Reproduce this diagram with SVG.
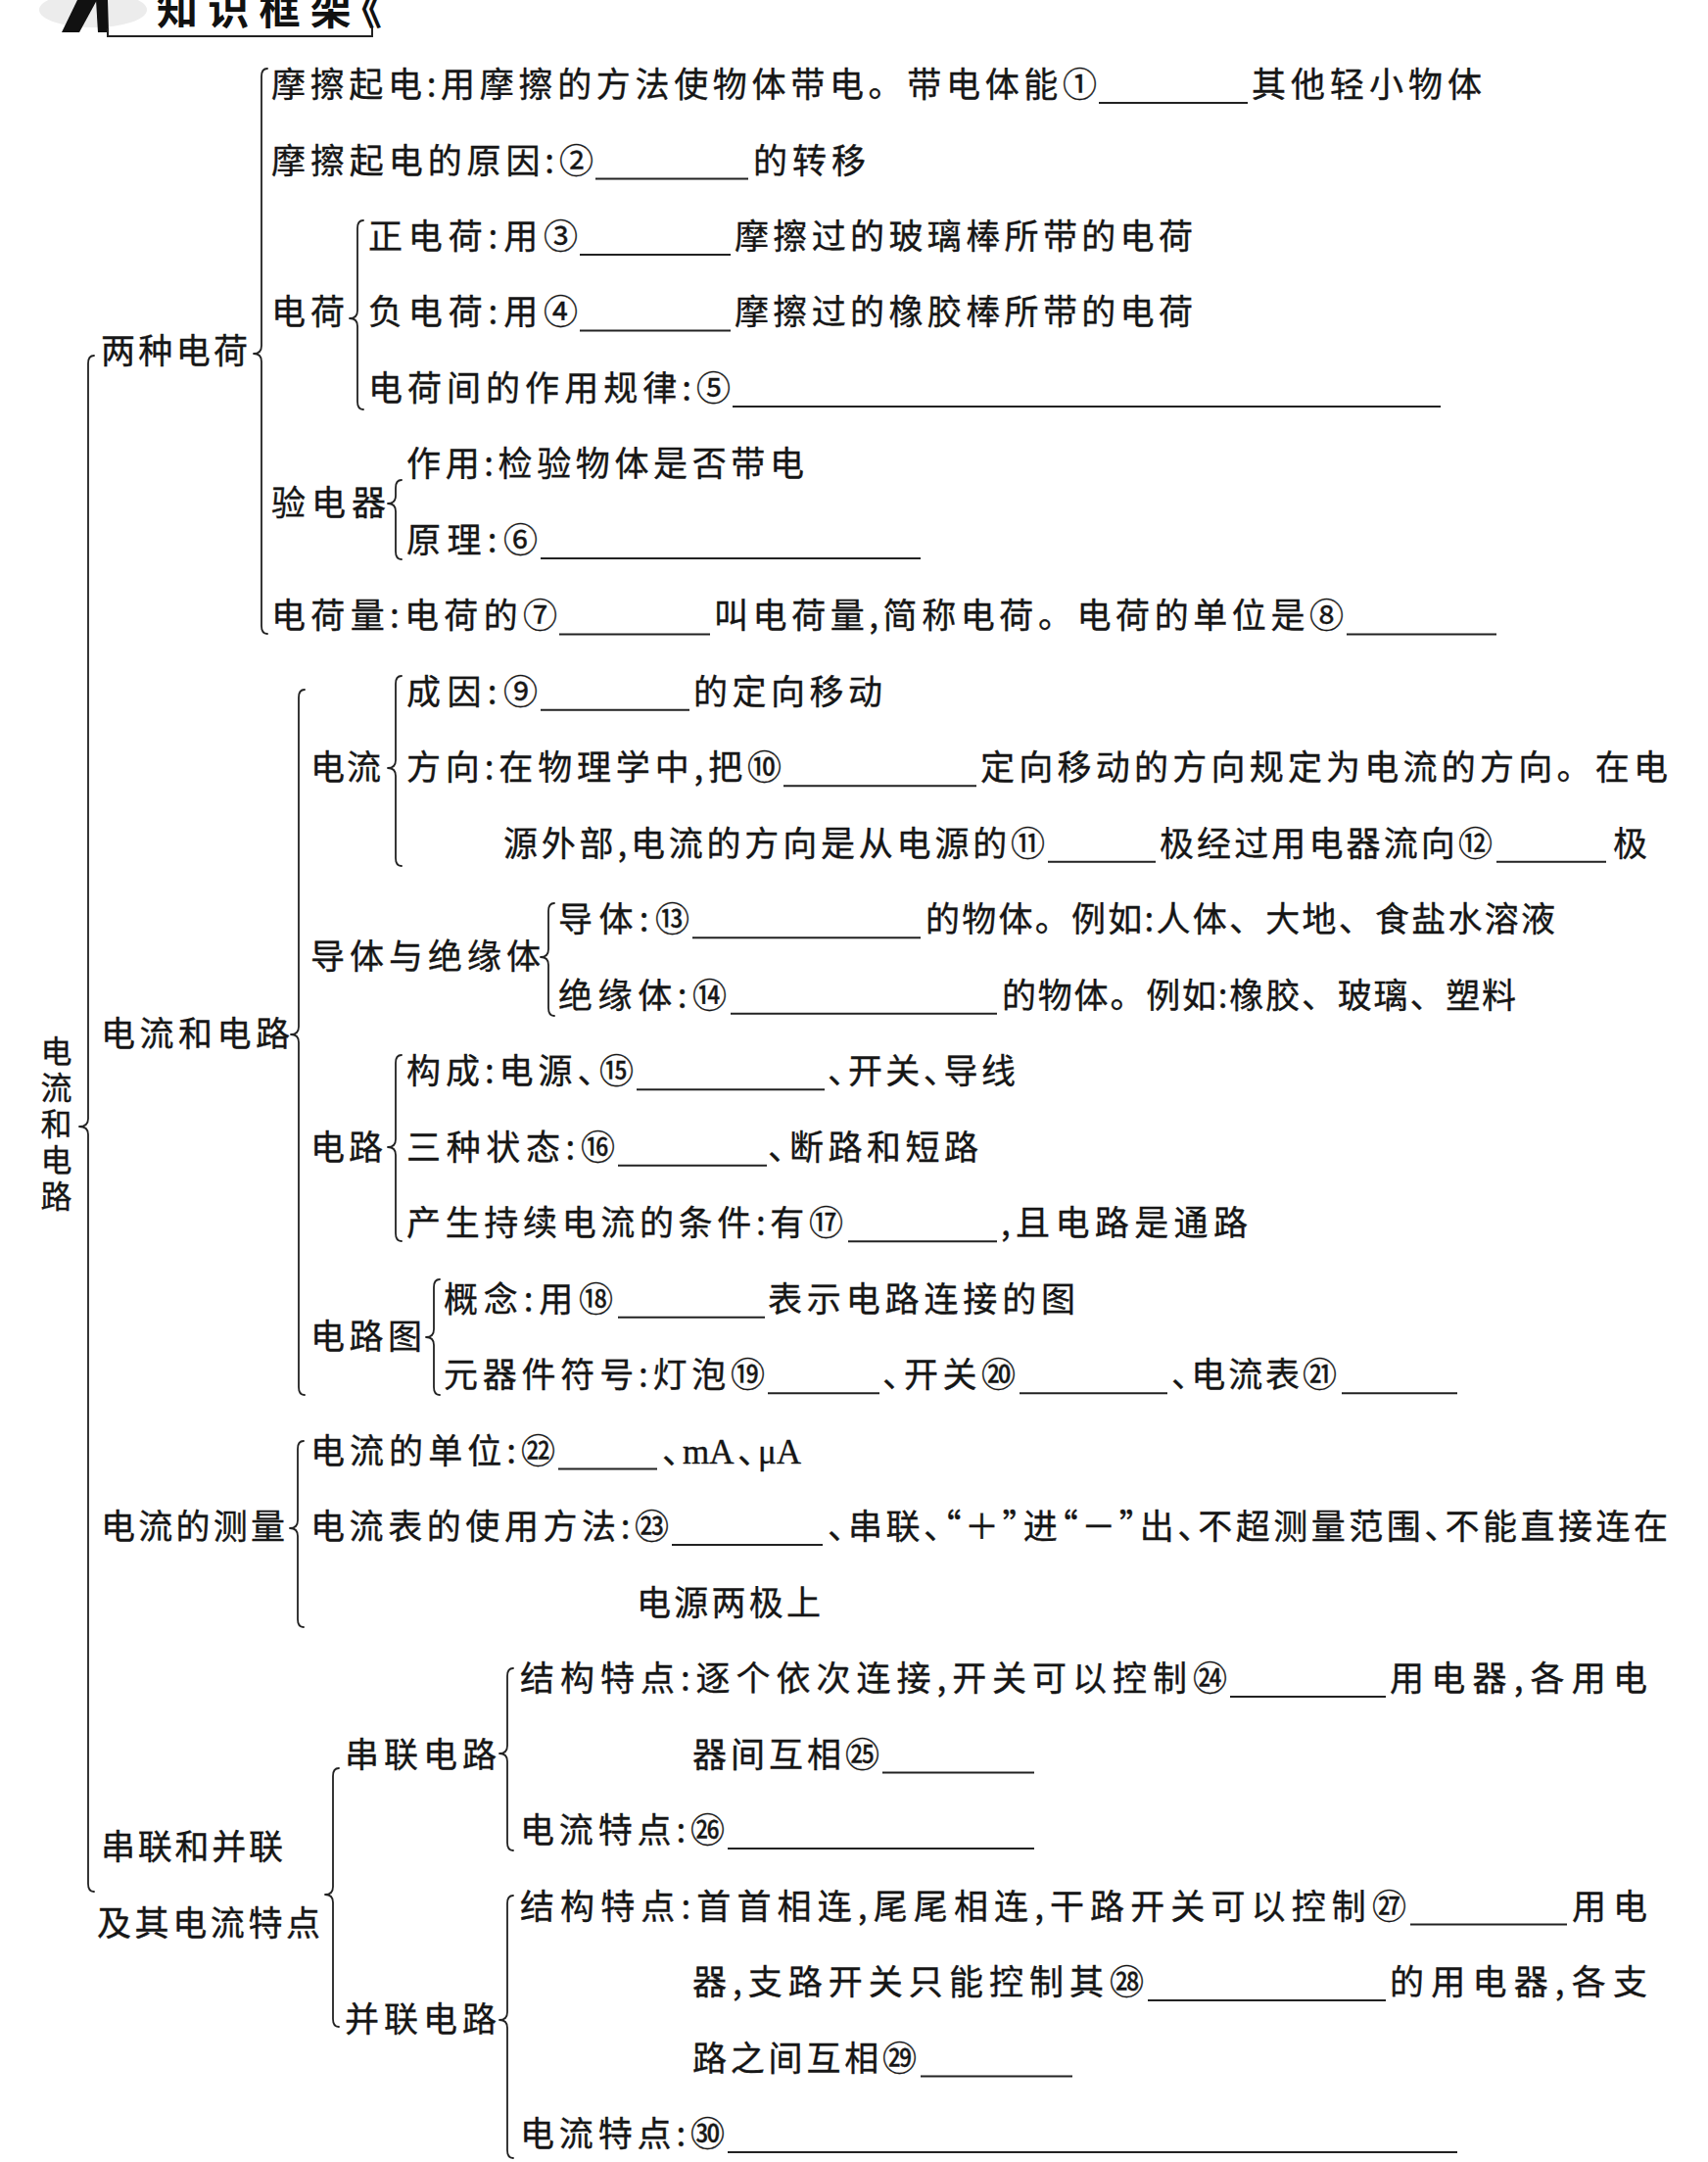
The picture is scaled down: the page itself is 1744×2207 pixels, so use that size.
<svg xmlns="http://www.w3.org/2000/svg" width="1744" height="2207" viewBox="0 0 1744 2207">
<style>
text{font-family:"Noto Sans CJK SC","Noto Sans CJK TC",sans-serif;font-size:35px;fill:#161616;stroke:#161616;stroke-width:0.35px;font-feature-settings:"halt"}
.nh{font-feature-settings:normal}
.title{font-size:42px;font-weight:700;fill:#111;stroke:none}
.ser{font-family:"Liberation Serif","Noto Sans CJK SC",serif;font-size:35px}
.vert{font-size:32px;writing-mode:vertical-rl;letter-spacing:5px;font-feature-settings:normal}
.u{stroke:#222;stroke-width:2;fill:none}
.b{stroke:#222;stroke-width:1.8;fill:none;stroke-linecap:round;stroke-linejoin:round}
</style>
<rect x="0" y="0" width="1744" height="2207" fill="#ffffff"/>

<g id="title">
  <ellipse cx="95" cy="10" rx="55" ry="18" fill="#ececec"/>
  <polygon points="63,33 81,33 99,0 79,0" fill="#111"/>
  <polygon points="98,0 110,0 111,33 100,33" fill="#111"/>
  <text class="title" x="160" y="25" textLength="230" lengthAdjust="spacing">知识框架《</text>
  <path class="u" d="M110,29 L110,37 L380,37 L380,28"/>
</g>

<g id="connectors">
  <path class="b" d="M96,363 Q90,363 90,371 L90,1142 Q90,1150 81,1150 Q90,1150 90,1158 L90,1923 Q90,1931 96,1931"/>
  <path class="b" d="M273,70 Q267,70 267,78 L267,353 Q267,361 259,361 Q267,361 267,369 L267,639 Q267,647 273,647"/>
  <path class="b" d="M371,225 Q365,225 365,233 L365,317 Q365,325 357,325 Q365,325 365,333 L365,410 Q365,418 371,418"/>
  <path class="b" d="M410,490 Q404,490 404,498 L404,506 Q404,514 396,514 Q404,514 404,522 L404,563 Q404,571 410,571"/>
  <path class="b" d="M311,704 Q305,704 305,712 L305,1048 Q305,1056 297,1056 Q305,1056 305,1064 L305,1416 Q305,1424 311,1424"/>
  <path class="b" d="M410,690 Q404,690 404,698 L404,776 Q404,784 396,784 Q404,784 404,792 L404,876 Q404,884 410,884"/>
  <path class="b" d="M566,922 Q560,922 560,930 L560,969 Q560,977 552,977 Q560,977 560,985 L560,1029 Q560,1037 566,1037"/>
  <path class="b" d="M410,1077 Q404,1077 404,1085 L404,1163 Q404,1171 396,1171 Q404,1171 404,1179 L404,1259 Q404,1267 410,1267"/>
  <path class="b" d="M449,1306 Q443,1306 443,1314 L443,1357 Q443,1365 435,1365 Q443,1365 443,1373 L443,1416 Q443,1424 449,1424"/>
  <path class="b" d="M310,1471 Q304,1471 304,1479 L304,1552 Q304,1560 296,1560 Q304,1560 304,1568 L304,1653 Q304,1661 310,1661"/>
  <path class="b" d="M346,1805 Q340,1805 340,1813 L340,1926 Q340,1934 332,1934 Q340,1934 340,1942 L340,2061 Q340,2069 346,2069"/>
  <path class="b" d="M524,1703 Q518,1703 518,1711 L518,1782 Q518,1790 510,1790 Q518,1790 518,1798 L518,1881 Q518,1889 524,1889"/>
  <path class="b" d="M524,1935 Q518,1935 518,1943 L518,2054 Q518,2062 510,2062 Q518,2062 518,2070 L518,2195 Q518,2203 524,2203"/>
</g>

<g id="root">
  <text class="vert" x="57.5" y="1057">电流和电路</text>
</g>

<g id="n-liangzhong"><text x="103" y="371" textLength="150" lengthAdjust="spacing">两种电荷</text></g>

<g id="n-mocaqidian">
  <text class="nh" x="277" y="99" textLength="843" lengthAdjust="spacing">摩擦起电:用摩擦的方法使物体带电。带电体能①</text>
  <line class="u" x1="1122" y1="105" x2="1274" y2="105"/>
  <text x="1278" y="99" textLength="235" lengthAdjust="spacing">其他轻小物体</text>
</g>

<g id="n-yuanyin">
  <text x="277" y="176.5" textLength="329" lengthAdjust="spacing">摩擦起电的原因:②</text>
  <line class="u" x1="608" y1="182.5" x2="764" y2="182.5"/>
  <text x="769" y="176.5" textLength="115" lengthAdjust="spacing">的转移</text>
</g>

<g id="n-dianhe"><text x="277" y="331.4" textLength="75" lengthAdjust="spacing">电荷</text></g>

<g id="n-zheng">
  <text x="376" y="254" textLength="214" lengthAdjust="spacing">正电荷:用③</text>
  <line class="u" x1="592" y1="260" x2="746" y2="260"/>
  <text x="750" y="254" textLength="468" lengthAdjust="spacing">摩擦过的玻璃棒所带的电荷</text>
</g>

<g id="n-fu">
  <text x="376" y="331.4" textLength="214" lengthAdjust="spacing">负电荷:用④</text>
  <line class="u" x1="592" y1="337.4" x2="746" y2="337.4"/>
  <text x="750" y="331.4" textLength="468" lengthAdjust="spacing">摩擦过的橡胶棒所带的电荷</text>
</g>

<g id="n-guilv">
  <text x="376" y="408.9" textLength="370" lengthAdjust="spacing">电荷间的作用规律:⑤</text>
  <line class="u" x1="748" y1="414.9" x2="1471" y2="414.9"/>
</g>

<g id="n-yandianqi"><text x="277" y="526" textLength="117" lengthAdjust="spacing">验电器</text></g>

<g id="n-zuoyong"><text x="415" y="486.4" textLength="406" lengthAdjust="spacing">作用:检验物体是否带电</text></g>

<g id="n-yuanli">
  <text x="415" y="563.9" textLength="134" lengthAdjust="spacing">原理:⑥</text>
  <line class="u" x1="552" y1="569.9" x2="940" y2="569.9"/>
</g>

<g id="n-dianheliang">
  <text x="277" y="641.4" textLength="292" lengthAdjust="spacing">电荷量:电荷的⑦</text>
  <line class="u" x1="571" y1="647.4" x2="725" y2="647.4"/>
  <text class="nh" x="729" y="641.4" textLength="643" lengthAdjust="spacing">叫电荷量,简称电荷。电荷的单位是⑧</text>
  <line class="u" x1="1375" y1="647.4" x2="1528" y2="647.4"/>
</g>

<g id="n-dianliuhedianlu"><text x="103" y="1068" textLength="193" lengthAdjust="spacing">电流和电路</text></g>

<g id="n-dianliu"><text x="317" y="796.3" textLength="72" lengthAdjust="spacing">电流</text></g>

<g id="n-chengyin">
  <text x="415" y="718.8" textLength="134" lengthAdjust="spacing">成因:⑨</text>
  <line class="u" x1="552" y1="724.8" x2="704" y2="724.8"/>
  <text x="708" y="718.8" textLength="193" lengthAdjust="spacing">的定向移动</text>
</g>

<g id="n-fangxiang">
  <text x="415" y="796.3" textLength="383" lengthAdjust="spacing">方向:在物理学中,把⑩</text>
  <line class="u" x1="800" y1="802.3" x2="997" y2="802.3"/>
  <text class="nh" x="1001" y="796.3" textLength="702" lengthAdjust="spacing">定向移动的方向规定为电流的方向。在电</text>
  <text x="514" y="873.8" textLength="553" lengthAdjust="spacing">源外部,电流的方向是从电源的⑪</text>
  <line class="u" x1="1070" y1="879.8" x2="1180" y2="879.8"/>
  <text x="1184" y="873.8" textLength="340" lengthAdjust="spacing">极经过用电器流向⑫</text>
  <line class="u" x1="1528" y1="879.8" x2="1640" y2="879.8"/>
  <text x="1647" y="873.8">极</text>
</g>

<g id="n-daoti-jueyuanti"><text x="317" y="989" textLength="235" lengthAdjust="spacing">导体与绝缘体</text></g>

<g id="n-daoti">
  <text x="570" y="951.3" textLength="134" lengthAdjust="spacing">导体:⑬</text>
  <line class="u" x1="707" y1="957.3" x2="940" y2="957.3"/>
  <text class="nh" x="945" y="951.3" textLength="643" lengthAdjust="spacing">的物体。例如:人体、大地、食盐水溶液</text>
</g>

<g id="n-jueyuanti">
  <text x="570" y="1028.8" textLength="172" lengthAdjust="spacing">绝缘体:⑭</text>
  <line class="u" x1="746" y1="1034.8" x2="1018" y2="1034.8"/>
  <text class="nh" x="1023" y="1028.8" textLength="525" lengthAdjust="spacing">的物体。例如:橡胶、玻璃、塑料</text>
</g>

<g id="n-dianlu"><text x="317" y="1183.7" textLength="74" lengthAdjust="spacing">电路</text></g>

<g id="n-goucheng">
  <text x="415" y="1106.2" textLength="232" lengthAdjust="spacing">构成:电源、⑮</text>
  <line class="u" x1="650" y1="1112.2" x2="842" y2="1112.2"/>
  <text x="845" y="1106.2" textLength="192" lengthAdjust="spacing">、开关、导线</text>
</g>

<g id="n-zhuangtai">
  <text x="415" y="1183.7" textLength="213" lengthAdjust="spacing">三种状态:⑯</text>
  <line class="u" x1="631" y1="1189.7" x2="783" y2="1189.7"/>
  <text x="784" y="1183.7" textLength="215" lengthAdjust="spacing">、断路和短路</text>
</g>

<g id="n-tiaojian">
  <text x="415" y="1261.2" textLength="446" lengthAdjust="spacing">产生持续电流的条件:有⑰</text>
  <line class="u" x1="866" y1="1267.2" x2="1018" y2="1267.2"/>
  <text x="1022" y="1261.2" textLength="252" lengthAdjust="spacing">,且电路是通路</text>
</g>

<g id="n-dianlutu"><text x="317" y="1377" textLength="114" lengthAdjust="spacing">电路图</text></g>

<g id="n-gainian">
  <text x="453" y="1338.7" textLength="173" lengthAdjust="spacing">概念:用⑱</text>
  <line class="u" x1="631" y1="1344.7" x2="781" y2="1344.7"/>
  <text x="784" y="1338.7" textLength="314" lengthAdjust="spacing">表示电路连接的图</text>
</g>

<g id="n-fuhao">
  <text x="453" y="1416.2" textLength="328" lengthAdjust="spacing">元器件符号:灯泡⑲</text>
  <line class="u" x1="784" y1="1422.2" x2="898" y2="1422.2"/>
  <text x="901" y="1416.2" textLength="136" lengthAdjust="spacing">、开关⑳</text>
  <line class="u" x1="1041" y1="1422.2" x2="1192" y2="1422.2"/>
  <text x="1196" y="1416.2" textLength="169" lengthAdjust="spacing">、电流表㉑</text>
  <line class="u" x1="1370" y1="1422.2" x2="1488" y2="1422.2"/>
</g>

<g id="n-celiang"><text x="103" y="1571.1" textLength="188" lengthAdjust="spacing">电流的测量</text></g>

<g id="n-danwei">
  <text x="317" y="1493.6" textLength="250" lengthAdjust="spacing">电流的单位:㉒</text>
  <line class="u" x1="570" y1="1499.6" x2="671" y2="1499.6"/>
  <text y="1493.6"><tspan x="676">、</tspan><tspan class="ser" x="697">mA</tspan><tspan x="753">、</tspan><tspan class="ser" x="774">μA</tspan></text>
</g>

<g id="n-shiyong">
  <text x="317" y="1571.1" textLength="366" lengthAdjust="spacing">电流表的使用方法:㉓</text>
  <line class="u" x1="686" y1="1577.1" x2="840" y2="1577.1"/>
  <text x="845" y="1571.1" textLength="858" lengthAdjust="spacing">、串联、“＋”进“－”出、不超测量范围、不能直接连在</text>
  <text x="650" y="1648.6" textLength="188" lengthAdjust="spacing">电源两极上</text>
</g>

<g id="n-chuanbing">
  <text x="103" y="1898" textLength="186" lengthAdjust="spacing">串联和并联</text>
  <text x="99" y="1976" textLength="228" lengthAdjust="spacing">及其电流特点</text>
</g>

<g id="n-chuanlian"><text x="352" y="1803.6" textLength="155" lengthAdjust="spacing">串联电路</text></g>

<g id="n-chuan-jiegou">
  <text x="531" y="1726.1" textLength="722" lengthAdjust="spacing">结构特点:逐个依次连接,开关可以控制㉔</text>
  <line class="u" x1="1256" y1="1732.1" x2="1415" y2="1732.1"/>
  <text x="1419" y="1726.1" textLength="263" lengthAdjust="spacing">用电器,各用电</text>
  <text x="707" y="1803.6" textLength="191" lengthAdjust="spacing">器间互相㉕</text>
  <line class="u" x1="901" y1="1809.6" x2="1056" y2="1809.6"/>
</g>

<g id="n-chuan-dianliu">
  <text x="531" y="1881" textLength="209" lengthAdjust="spacing">电流特点:㉖</text>
  <line class="u" x1="743" y1="1887" x2="1056" y2="1887"/>
</g>

<g id="n-binglian"><text x="352" y="2074" textLength="155" lengthAdjust="spacing">并联电路</text></g>

<g id="n-bing-jiegou">
  <text x="531" y="1958.5" textLength="905" lengthAdjust="spacing">结构特点:首首相连,尾尾相连,干路开关可以控制㉗</text>
  <line class="u" x1="1440" y1="1964.5" x2="1600" y2="1964.5"/>
  <text x="1605" y="1958.5" textLength="77" lengthAdjust="spacing">用电</text>
  <text x="707" y="2036" textLength="461" lengthAdjust="spacing">器,支路开关只能控制其㉘</text>
  <line class="u" x1="1172" y1="2042" x2="1415" y2="2042"/>
  <text x="1419" y="2036" textLength="263" lengthAdjust="spacing">的用电器,各支</text>
  <text x="707" y="2113.5" textLength="229" lengthAdjust="spacing">路之间互相㉙</text>
  <line class="u" x1="940" y1="2119.5" x2="1095" y2="2119.5"/>
</g>

<g id="n-bing-dianliu">
  <text x="531" y="2191" textLength="209" lengthAdjust="spacing">电流特点:㉚</text>
  <line class="u" x1="743" y1="2197" x2="1488" y2="2197"/>
</g>
</svg>
